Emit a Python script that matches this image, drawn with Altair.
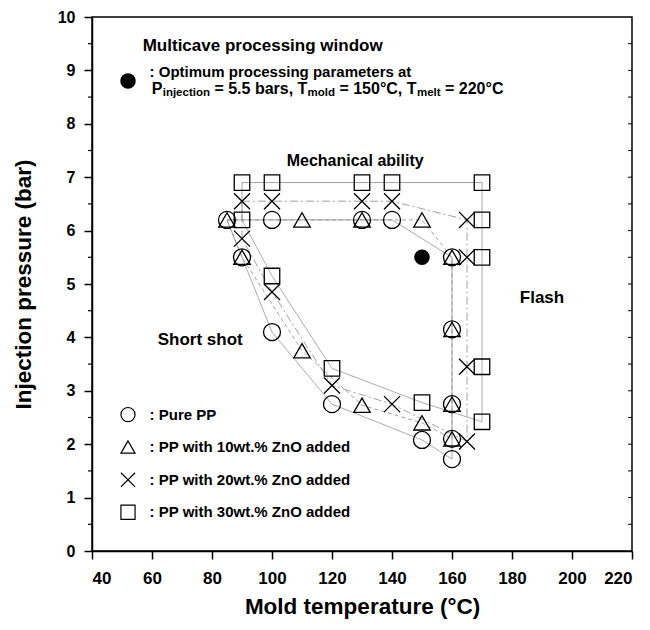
import altair as alt
import pandas as pd

FONT = "Liberation Sans"

series_names = ["Pure PP", "PP with 10wt.% ZnO added",
                "PP with 20wt.% ZnO added", "PP with 30wt.% ZnO added"]

# boundary points of each processing window (in drawing order)
pp_x = [85, 100, 130, 140, 160, 160, 160, 160, 160, 150, 120, 100, 90]
pp_y = [6.2, 6.2, 6.2, 6.2, 5.5, 4.15, 2.75, 2.1, 1.72, 2.08, 2.75, 4.1, 5.5]

zn10_x = [85, 110, 130, 150, 160, 160, 160, 160, 150, 130, 110, 90]
zn10_y = [6.2, 6.2, 6.2, 6.2, 5.5, 4.15, 2.75, 2.1, 2.4, 2.73, 3.75, 5.5]

zn20_x = [90, 100, 130, 140, 165, 165, 165, 165, 140, 120, 100, 90]
zn20_y = [6.55, 6.55, 6.55, 6.55, 6.2, 5.5, 3.45, 2.05, 2.75, 3.1, 4.85, 5.85]

zn30_x = [90, 100, 130, 140, 170, 170, 170, 170, 170, 150, 120, 100, 90]
zn30_y = [6.9, 6.9, 6.9, 6.9, 6.9, 6.2, 5.5, 3.45, 2.42, 2.78, 3.42, 5.15, 6.2]

opt_x = [150]
opt_y = [5.5]

y_ticks = list(range(0, 11))
y_minor = [0.5, 1.5, 2.5, 3.5, 4.5, 5.5, 6.5, 7.5, 8.5, 9.5]
x_ticks = list(range(40, 221, 20))

legend_y = [2.555, 1.947, 1.333, 0.725]

shapes = ["circle", "triangle-up", "M-1,-1L1,1M1,-1L-1,1", "square"]
dashes = [[1, 0], [4, 3], [8, 3, 2, 3], [1, 0]]
sizes = [289, 240, 280, 289]

# ---- tables ----
pts_rows, line_rows = [], []
for name, xs, ys in zip(series_names, [pp_x, zn10_x, zn20_x, zn30_x],
                        [pp_y, zn10_y, zn20_y, zn30_y]):
    for i, (a, b) in enumerate(zip(xs, ys)):
        pts_rows.append({"series": name, "x": a, "y": b})
        line_rows.append({"series": name, "x": a, "y": b, "o": i})
    line_rows.append({"series": name, "x": xs[0], "y": ys[0], "o": len(xs)})
pts = pd.DataFrame(pts_rows)
lines = pd.DataFrame(line_rows)

X = alt.X("x:Q", scale=alt.Scale(domain=[40, 220], nice=False, zero=False),
          axis=alt.Axis(values=x_ticks, title="Mold temperature (°C)", grid=False,
                        tickSize=8, labelPadding=11, titlePadding=9, format="d",
                        labelFontSize=17))
Y = alt.Y("y:Q", scale=alt.Scale(domain=[0, 10], nice=False),
          axis=alt.Axis(values=y_ticks, title="Injection pressure (bar)", grid=False,
                        tickSize=8, labelPadding=9, titlePadding=22, format="d",
                        labelFontSize=16))

shape_scale = alt.Scale(domain=series_names, range=shapes)
size_scale = alt.Scale(domain=series_names, range=sizes)

line_layer = alt.Chart(lines).mark_line(strokeWidth=0.8, color="#8a8a8a").encode(
    x=X, y=Y, detail="series:N", order="o:Q",
    strokeDash=alt.StrokeDash("series:N", scale=alt.Scale(domain=series_names, range=dashes),
                              legend=None))

point_layer = alt.Chart(pts).mark_point(filled=False, color="black", strokeWidth=1.3,
                                        opacity=1).encode(
    x=X, y=Y,
    shape=alt.Shape("series:N", scale=shape_scale, legend=None),
    size=alt.Size("series:N", scale=size_scale, legend=None))

opt_layer = alt.Chart(pd.DataFrame({"x": opt_x + [52], "y": opt_y + [8.80]})).mark_point(
    filled=True, color="black", size=240, shape="circle", opacity=1).encode(x=X, y=Y)

leg_df = pd.DataFrame({"series": series_names, "x": [52] * 4, "y": legend_y,
                       "label": [": " + s for s in series_names]})
leg_pts = alt.Chart(leg_df).mark_point(filled=False, color="black", strokeWidth=1.2,
                                       size=200, opacity=1).encode(
    x=X, y=Y, shape=alt.Shape("series:N", scale=shape_scale, legend=None))
leg_txt = alt.Chart(leg_df).mark_text(align="left", baseline="middle", font=FONT,
                                      fontWeight="bold", fontSize=15, color="black").encode(
    x=alt.X("x2:Q", scale=alt.Scale(domain=[40, 220], nice=False, zero=False)),
    y=Y, text="label:N").transform_calculate(x2="datum.x + 7.2")

ann_text = ["Multicave processing window", ": Optimum processing parameters at",
            "Mechanical ability", "Short shot", "Flash",
            "P", "injection", "= 5.5 bars, T", "mold", "= 150°C, T", "melt", "= 220°C"]
ann_x = [56.9, 59.2, 104.9, 61.9, 182.6,
         59.9, 63.57, 80.8, 111.83, 122.47, 148.33, 157.67]
ann_y = [9.466, 8.977, 7.30, 3.956, 4.737,
         8.661, 8.577, 8.661, 8.577, 8.661, 8.577, 8.661]
ann_fs = [17, 15, 16, 17, 17, 16, 11.5, 16, 11.5, 16, 11.5, 16]
ann = pd.DataFrame({"t": ann_text, "x": ann_x, "y": ann_y, "fs": ann_fs})
ann_layer = alt.Chart(ann).mark_text(align="left", baseline="middle", font=FONT,
                                     fontWeight="bold", color="black").encode(
    x=X, y=Y, text="t:N", size=alt.Size("fs:Q", scale=None, legend=None))

minor_df = pd.DataFrame({"y": y_minor})
minor_left = alt.Chart(minor_df).mark_rule(color="black", strokeWidth=1.2).encode(
    y=Y, x=alt.value(-4), x2=alt.value(0))
right_df = pd.DataFrame({"y": y_minor + y_ticks[1:-1]})
minor_right = alt.Chart(right_df).mark_rule(color="black", strokeWidth=1.0).encode(
    y=Y, x=alt.value(536), x2=alt.value(540))

chart = alt.layer(minor_left, minor_right, line_layer, point_layer, opt_layer,
                  leg_pts, leg_txt, ann_layer).properties(
    width=540, height=534,
    autosize=alt.AutoSizeParams(type="none"),
    padding={"left": 84, "top": 9, "right": 10, "bottom": 70},
    background="white",
).configure_view(stroke="black", strokeWidth=1.5).configure_axis(
    domainColor="black", domainWidth=1.5, tickColor="black", tickWidth=1.5,
    labelFont=FONT, labelFontWeight="bold", labelColor="black",
    titleFont=FONT, titleFontWeight="bold", titleFontSize=22.5, titleColor="black")

chart.save("out.html", embed_options={"renderer": "svg", "actions": False})
